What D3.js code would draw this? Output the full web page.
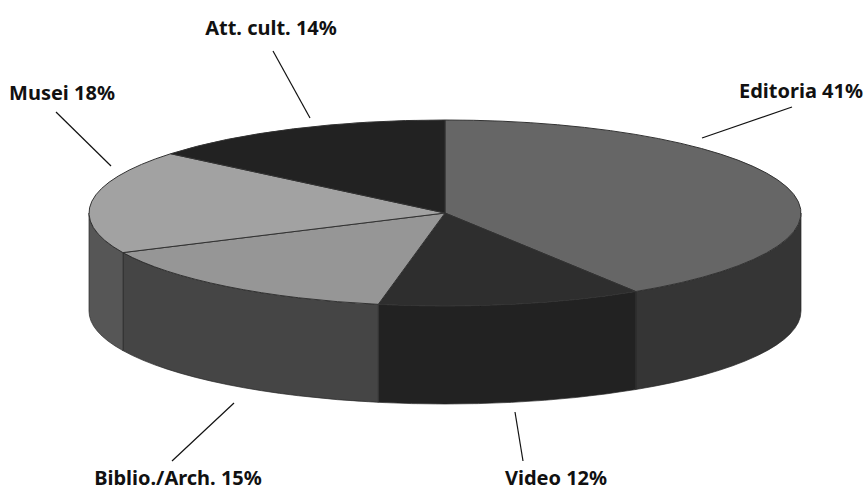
<!DOCTYPE html>
<html><head><meta charset="utf-8">
<script src="https://cdn.jsdelivr.net/npm/d3@7"></script>
<style>html,body{margin:0;padding:0;background:#fff}svg{display:block}
text{font-family:"Noto Sans",sans-serif;font-weight:700;fill:#111}</style>
</head><body><svg id="c" width="864" height="490"></svg>
<script>
const categories = ["Editoria","Video","Biblio./Arch.","Musei","Att. cult."];
const shares = [41,12,15,18,14];
const topColors = ["#666666","#2e2e2e","#969696","#a2a2a2","#212121"];
const wallColors = ["#343434","#212121","#444444","#575757","#212121"];
const labelX = [863,556,178,62,271];
const labelY = [98,485,485,100,35];
const labelAnchor = ["end","middle","middle","middle","middle"];
const leaderFrom = [[792,107],[515,412],[234,403],[56,112],[273,51]];
const leaderTo = [[702,138],[523,461],[172,461],[111,166],[310,118]];

const cx=445, cy=213, rx=356, ry=93, depth=98;
const svg=d3.select("#c");
const arcs=d3.pie().sort(null).value(d=>d)(shares);
const sx=d3.scaleLinear().domain([-1,1]).range([cx-rx,cx+rx]);
const sy=d3.scaleLinear().domain([-1,1]).range([cy-ry,cy+ry]);
const px=a=>sx(Math.sin(a)), py=a=>sy(-Math.cos(a));

const defs=svg.append("defs");
defs.append("filter").attr("id","soft").attr("x","-5%").attr("y","-5%").attr("width","110%").attr("height","110%")
  .append("feGaussianBlur").attr("stdDeviation",0.45);
const g=svg.append("g").attr("filter","url(#soft)");

function wallPath(d){
  const a0=Math.max(d.startAngle,Math.PI/2), a1=Math.min(d.endAngle,Math.PI*1.5);
  if(a1<=a0) return null;
  return `M${px(a0)},${py(a0)}A${rx},${ry} 0 0 1 ${px(a1)},${py(a1)}`+
         `L${px(a1)},${py(a1)+depth}A${rx},${ry} 0 0 0 ${px(a0)},${py(a0)+depth}Z`;
}
function topPath(d){
  const large=(d.endAngle-d.startAngle)>Math.PI?1:0;
  return `M${cx},${cy}L${px(d.startAngle)},${py(d.startAngle)}`+
         `A${rx},${ry} 0 ${large} 1 ${px(d.endAngle)},${py(d.endAngle)}Z`;
}
g.selectAll("path.wall").data(arcs.filter(d=>wallPath(d))).join("path").attr("class","wall")
  .attr("d",wallPath).attr("fill",d=>wallColors[d.index]).attr("stroke","#2a2a2a").attr("stroke-width",0.7);
g.selectAll("path.top").data(arcs).join("path").attr("class","top")
  .attr("d",topPath).attr("fill",d=>topColors[d.index]).attr("stroke","#333").attr("stroke-width",1);

svg.selectAll("line.leader").data(categories).join("line").attr("class","leader")
  .attr("x1",(d,i)=>leaderFrom[i][0]).attr("y1",(d,i)=>leaderFrom[i][1])
  .attr("x2",(d,i)=>leaderTo[i][0]).attr("y2",(d,i)=>leaderTo[i][1])
  .attr("stroke","#111").attr("stroke-width",1.2);
svg.selectAll("text.label").data(categories).join("text").attr("class","label")
  .attr("x",(d,i)=>labelX[i]).attr("y",(d,i)=>labelY[i]).attr("text-anchor",(d,i)=>labelAnchor[i])
  .attr("font-size",20).text((d,i)=>`${d} ${shares[i]}%`);
</script></body></html>
